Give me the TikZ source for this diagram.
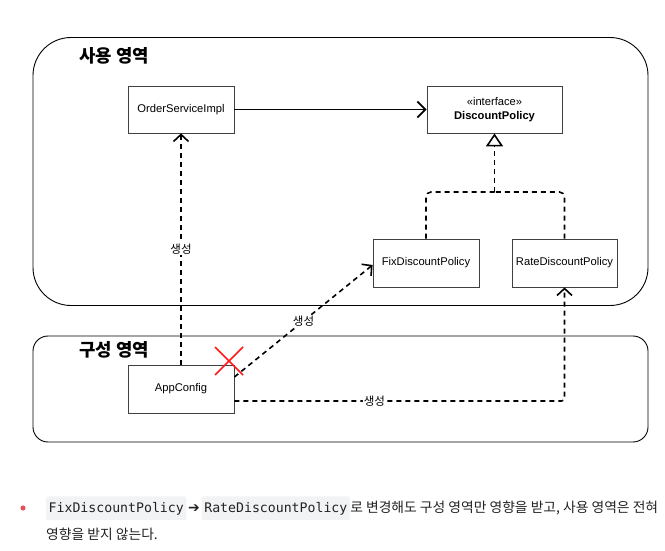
\documentclass[tikz,border=0pt]{standalone}
\usepackage{fontspec}
\setmainfont{Liberation Sans}
\setmonofont{DejaVu Sans Mono}
\newfontfamily\kr{Noto Sans CJK KR}
\newfontfamily\arrfont{DejaVu Sans}
\usetikzlibrary{arrows.meta,calc}
\definecolor{codebg}{HTML}{F2F3F5}
\definecolor{bullet}{HTML}{E0525E}
\definecolor{txt}{HTML}{222222}
\begin{document}
\begin{tikzpicture}[x=1pt,y=-1pt,
  box/.style={draw=black!75, line width=0.8pt, fill=white, inner sep=0pt, align=center,
    font=\fontsize{11.2}{14}\selectfont},
  cont/.style={draw=black, line width=0.9pt},
  area/.style={font=\kr\bfseries\fontsize{17.8}{20}\selectfont, inner sep=0pt},
  dep/.style={line width=1.6pt, dash pattern=on 5pt off 4pt, -{Straight Barb[length=7pt,width=15pt]}},
  lbl/.style={fill=white, inner sep=1pt, font=\kr\fontsize{11.5}{13}\selectfont},
  codebox/.style={anchor=base west, fill=codebg, rounded corners=2pt, inner xsep=2.5pt, inner ysep=5.5pt,
    font=\ttfamily\fontsize{13.2}{15}\selectfont, text=txt},
  ktext/.style={anchor=base west, inner sep=0pt, font=\kr\fontsize{13.8}{16}\selectfont, text=txt}]
\useasboundingbox (0,0) rectangle (665,551);
\fill[white] (0,0) rectangle (665,551);
% containers
\node[cont, rounded corners=38pt, minimum width=615pt, minimum height=268pt, inner sep=0pt] (use) at (340.5,171.5) {};
\node[cont, rounded corners=15pt, minimum width=615pt, minimum height=106pt, inner sep=0pt] (cfg) at (340.5,389) {};
\node[area] (uselbl) at (114,56) {사용 영역};
\node[area] (cfglbl) at (114,350) {구성 영역};
% boxes
\node[box, minimum width=106pt, minimum height=47pt] (osi) at (181,109.5) {OrderServiceImpl};
\node[box, minimum width=135pt, minimum height=47pt] (dp) at (494.5,109.5) {«interface»\\\textbf{DiscountPolicy}};
\node[box, minimum width=106pt, minimum height=48pt] (fix) at (426,263) {FixDiscountPolicy};
\node[box, minimum width=105pt, minimum height=48pt] (rate) at (564.5,263) {RateDiscountPolicy};
\node[box, minimum width=106pt, minimum height=48pt] (app) at (181,389) {AppConfig};
% connectors
\draw[line width=1.8pt, -{Straight Barb[length=8pt,width=16pt]}] (osi.east) -- (dp.west);
\coordinate (j) at (494.5,192);
\draw[line width=1.6pt, dash pattern=on 5pt off 4pt, rounded corners=5pt] (fix.north) |- (j);
\draw[line width=1.6pt, dash pattern=on 5pt off 4pt, rounded corners=5pt] (rate.north) |- (j);
\draw[line width=1.6pt, dash pattern=on 5pt off 4pt, -{Triangle[open, length=13pt, width=17pt, fill=white]}] (j) -- (dp.south);
\draw[dep] (app.north) -- node[lbl, pos=0.5] {생성} (osi.south);
\draw[dep] ([yshift=12pt]app.east) -- node[lbl, pos=0.5] {생성} ([yshift=-2pt]fix.west);
\draw[dep, rounded corners=3pt] ([yshift=-12pt]app.east) -| node[lbl, pos=0.212] {생성} (rate.south);
% red X
\draw[red!90!white, line width=1.6pt] (215,347) -- (243,375) (243,347) -- (215,375);
% bottom text
\fill[bullet] (23,508) circle (2.6pt);
\node[codebox] (c1) at (46,512) {FixDiscountPolicy};
\node[anchor=base west, inner xsep=1.5pt, inner ysep=0pt, font=\arrfont\bfseries\fontsize{14}{14}\selectfont, text=txt] (arr) at (c1.base east) {➔};
\node[codebox] (c2) at (arr.base east) {RateDiscountPolicy};
\node[ktext] (t1) at (c2.base east) {로 변경해도 구성 영역만 영향을 받고, 사용 영역은 전혀};
\node[ktext] (t2) at (46,539) {영향을 받지 않는다.};
\end{tikzpicture}
\end{document}
